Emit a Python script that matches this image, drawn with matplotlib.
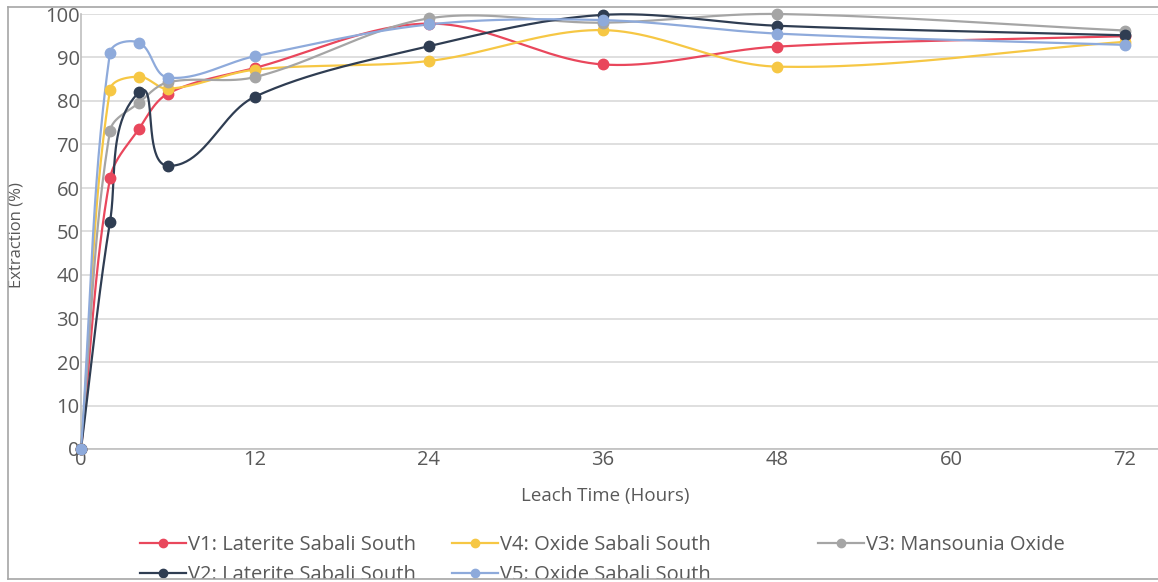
import numpy as np
import matplotlib
matplotlib.use("Agg")
import matplotlib.pyplot as plt
from matplotlib.lines import Line2D
from matplotlib.patches import Rectangle

plt.rcParams['font.family'] = ['Open Sans', 'DejaVu Sans']

hours = [0, 2, 4, 6, 12, 24, 36, 48, 72]
v1 = [0, 62.2, 73.6, 81.7, 87.6, 97.8, 88.4, 92.5, 94.9]
v4 = [0, 82.6, 85.6, 82.8, 87.2, 89.2, 96.3, 87.9, 93.6]
v3 = [0, 73.1, 79.6, 84.3, 85.5, 99.0, 98.0, 100.0, 96.2]
v2 = [0, 52.2, 82.0, 65.1, 81.0, 92.6, 99.8, 97.3, 95.1]
v5 = [0, 91.1, 93.4, 85.4, 90.3, 97.6, 98.6, 95.5, 92.9]

names = ["V1: Laterite Sabali South", "V4: Oxide Sabali South", "V3: Mansounia Oxide",
         "V2: Laterite Sabali South", "V5: Oxide Sabali South"]
colors = ["#E9475C", "#F6C744", "#A5A5A5", "#2F3D52", "#8EAADB"]
series = [v1, v4, v3, v2, v5]

x_ticks = [0, 12, 24, 36, 48, 60, 72]
y_ticks = list(range(0, 101, 10))

SX, SY = 14.5, 4.35  # pixel per data unit, used for smoothing geometry


def smooth(x, y, n=50, k=0.33):
    p = np.column_stack([np.asarray(x, float) * SX, np.asarray(y, float) * SY])
    m = len(p)
    tang = np.zeros_like(p)
    for i in range(m):
        a = p[max(i - 1, 0)]
        b = p[min(i + 1, m - 1)]
        d = b - a
        nrm = np.hypot(*d)
        tang[i] = d / nrm if nrm > 0 else 0
    t = np.linspace(0, 1, n)[:, None]
    out = []
    for i in range(m - 1):
        p1, p2 = p[i], p[i + 1]
        L = np.hypot(*(p2 - p1))
        c1 = p1 + tang[i] * L * k
        c2 = p2 - tang[i + 1] * L * k
        b = (1 - t) ** 3 * p1 + 3 * (1 - t) ** 2 * t * c1 + 3 * (1 - t) * t ** 2 * c2 + t ** 3 * p2
        out.append(b)
    out = np.vstack(out)
    return out[:, 0] / SX, out[:, 1] / SY


W, H = 1158, 582
fig = plt.figure(figsize=(W / 100, H / 100), dpi=100)
left_px, right_px, top_px, bot_px = 81, 1158, 14, 449
ax = fig.add_axes([left_px / W, 1 - bot_px / H, (right_px - left_px) / W, (bot_px - top_px) / H])

for ys, c in zip(series, colors):
    sx, sy = smooth(hours, ys)
    ax.plot(sx, sy, color=c, lw=1.6, zorder=3, clip_on=False)
    ax.plot(hours, ys, 'o', color=c, ms=7.5, zorder=4, clip_on=False)

ax.set_xlim(0, (right_px - left_px) / SX)
ax.set_ylim(0, 100)
ax.set_xticks(x_ticks)
ax.set_yticks(y_ticks)
ax.grid(axis='y', color='#D9D9D9', lw=1.2)
ax.set_axisbelow(True)
for s in ['top', 'right']:
    ax.spines[s].set_visible(False)
ax.spines['left'].set_color('#BFBFBF')
ax.spines['bottom'].set_color('#BFBFBF')
ax.spines['left'].set_linewidth(1.2)
ax.spines['bottom'].set_linewidth(1.2)
ax.tick_params(length=0, labelsize=14.5, labelcolor='#595959', pad=1)
ax.set_xlabel("Leach Time (Hours)", fontsize=13.5, color='#595959')
ax.xaxis.set_label_coords((605 - left_px) / (right_px - left_px), -(496 - bot_px) / (bot_px - top_px),
                          transform=ax.transAxes)
ax.xaxis.label.set_va('center')
ax.set_ylabel("Extraction (%)", fontsize=12, color='#595959')
ax.yaxis.set_label_coords(-(left_px - 17) / (right_px - left_px), (bot_px - 235) / (bot_px - top_px),
                          transform=ax.transAxes)
ax.yaxis.label.set_va('center')

# legend in three columns positioned manually
col_x = [140, 452, 818]
col_entries = [[0, 3], [1, 4], [2]]
for cx, idxs in zip(col_x, col_entries):
    handles = [Line2D([0], [0], color=colors[i], lw=1.6, marker='o', ms=6) for i in idxs]
    labels = [names[i] for i in idxs]
    fig.legend(handles, labels, loc='upper left',
               bbox_to_anchor=(cx / W, 1 - 535 / H), frameon=False,
               fontsize=14.5, handlelength=2.3, handletextpad=0.1,
               borderpad=0, borderaxespad=0, labelspacing=0.5, labelcolor='#595959')

# outer frame, cropped at the bottom
fig.patches.append(Rectangle((0, 0), 1, 1 - 579 / H, transform=fig.transFigure,
                             facecolor='white', edgecolor='none', zorder=10))
fig.add_artist(Line2D([8 / W, 1], [1 - 7 / H, 1 - 7 / H], color='#A6A6A6', lw=1.2, zorder=11))
fig.add_artist(Line2D([8 / W, 8 / W], [1 - 7 / H, 1 - 579 / H], color='#A6A6A6', lw=1.2, zorder=11))
fig.add_artist(Line2D([8 / W, 1], [1 - 579 / H, 1 - 579 / H], color='#A6A6A6', lw=1.2, zorder=11))

fig.savefig("out.png", dpi=100)
